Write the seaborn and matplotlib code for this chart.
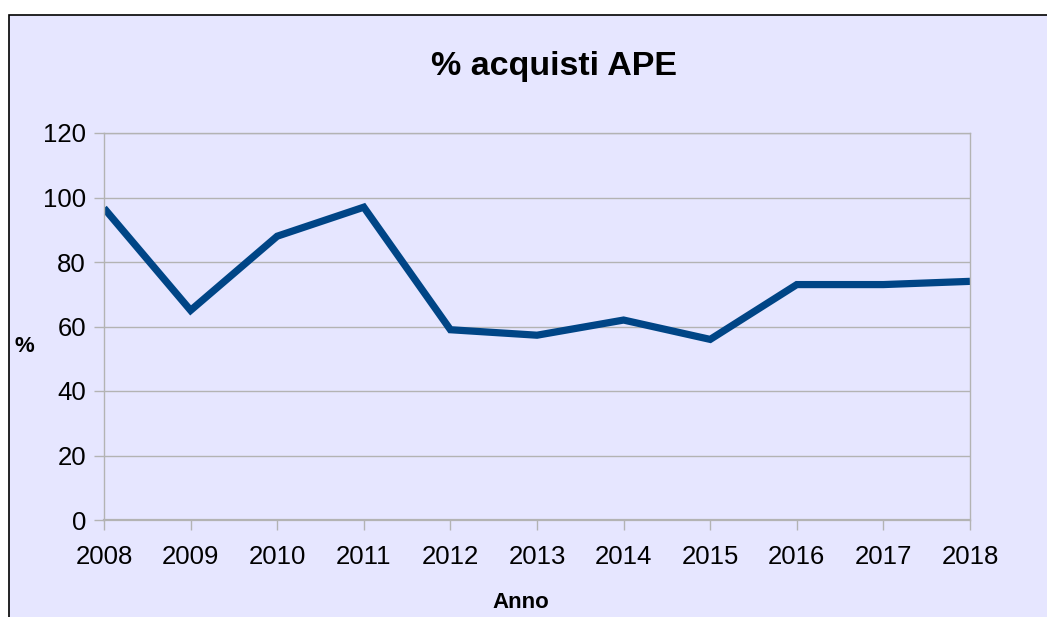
import matplotlib
matplotlib.use("Agg")
import matplotlib.pyplot as plt
from matplotlib.patches import Rectangle
import pandas as pd
import seaborn as sns

W, H = 1047, 617

anni = [2008, 2009, 2010, 2011, 2012, 2013, 2014, 2015, 2016, 2017, 2018]
perc_acquisti = [96.7, 65, 88, 97, 59, 57.3, 62, 56, 73, 73, 74]
y_ticks = [0, 20, 40, 60, 80, 100, 120]

BG = "#E6E6FF"
LINE = "#004586"
GRID = "#B3B3B3"

plt.rcParams["font.family"] = ["Liberation Sans", "DejaVu Sans"]

df = pd.DataFrame({"Anno": anni, "%": perc_acquisti})

fig = plt.figure(figsize=(W / 100, H / 100), dpi=100, facecolor="white")
# chart background with its border (top and left visible)
fig.patches.append(Rectangle((9 / W, -0.05), 1.2, 1.05 - 15 / H, transform=fig.transFigure,
                             facecolor=BG, edgecolor="black", linewidth=1.2, zorder=-10))

ax = fig.add_axes([104 / W, 1 - 520 / H, (970 - 104) / W, (520 - 133) / H])
ax.set_facecolor(BG)

sns.lineplot(data=df, x="Anno", y="%", ax=ax, color=LINE, linewidth=5.2)
for ln in ax.lines:
    ln.set_solid_joinstyle("miter")
    ln.set_solid_capstyle("butt")

ax.set_xlim(anni[0], anni[-1])
ax.set_ylim(0, 120)
ax.set_xticks(anni)
ax.set_xticklabels([str(a) for a in anni])
ax.set_yticks(y_ticks)
ax.yaxis.grid(True, color=GRID, linewidth=1)
ax.set_axisbelow(True)

for side in ["left", "right", "top", "bottom"]:
    ax.spines[side].set_color(GRID)
    ax.spines[side].set_linewidth(1)
ax.spines["bottom"].set_linewidth(1.6)

ax.tick_params(axis="both", colors=GRID, labelcolor="black", labelsize=18.5, length=7, width=1)
ax.tick_params(axis="y", pad=6)
ax.tick_params(axis="x", pad=11)

ax.set_xlabel("")
ax.set_ylabel("")
fig.text(554 / W, 1 - 66 / H, "% acquisti APE", ha="center", va="center",
         fontsize=24.5, fontweight="bold")
fig.text(521 / W, 1 - 603 / H, "Anno", ha="center", va="center",
         fontsize=16, fontweight="bold")
fig.text(24 / W, 1 - 346 / H, "%", ha="center", va="center",
         fontsize=16, fontweight="bold")

fig.savefig("out.png", dpi=100, facecolor=fig.get_facecolor())
